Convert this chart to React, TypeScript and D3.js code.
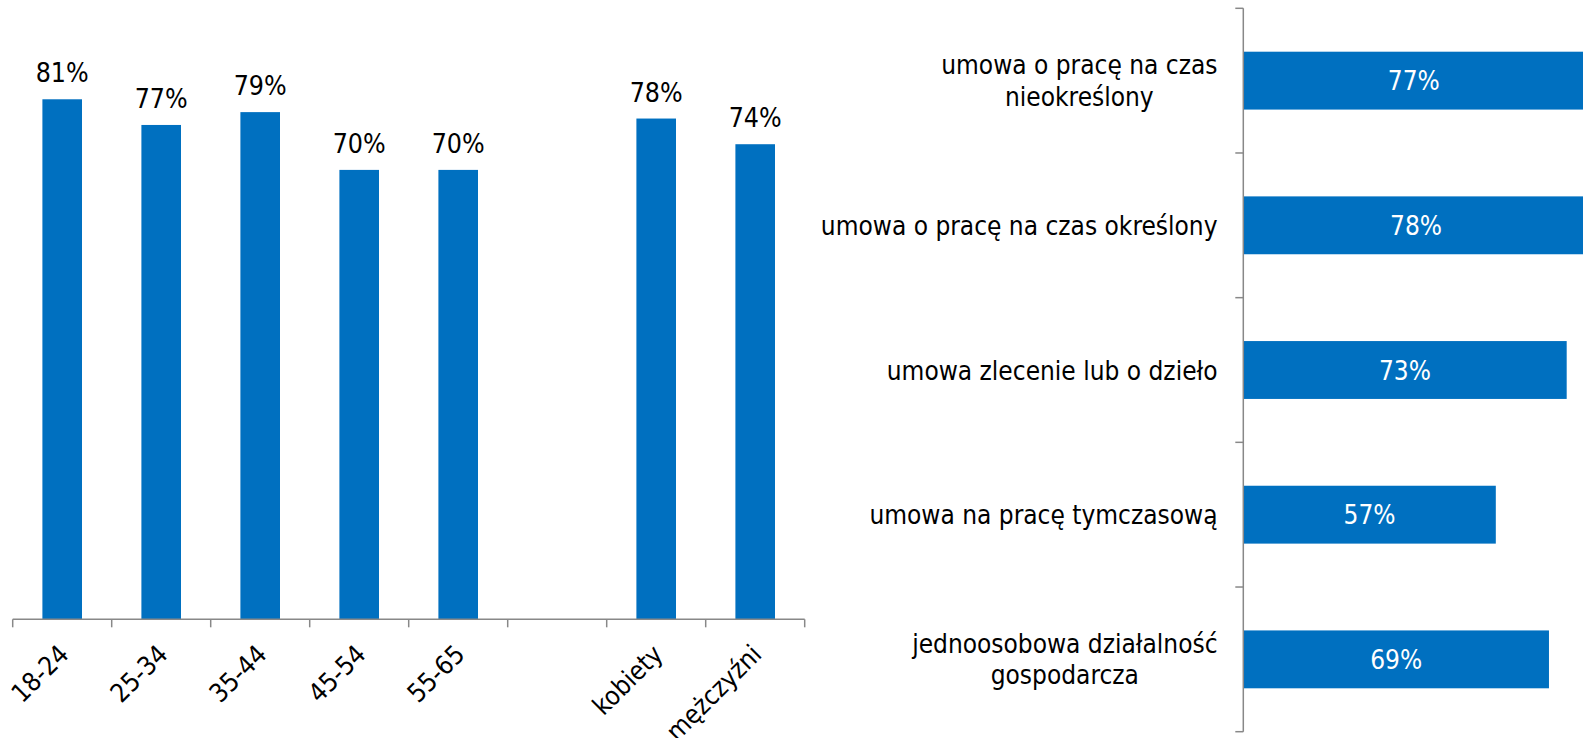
import React, { useEffect, useRef } from 'react';
import * as d3 from 'd3';

const W = 1583;
const H = 738;

const ageCategories = ['18-24', '25-34', '35-44', '45-54', '55-65', '', 'kobiety', 'mężczyźni'];
const ageValues: (number | null)[] = [81, 77, 79, 70, 70, null, 78, 74];

const contractCategories: string[][] = [
  ['umowa o pracę na czas', 'nieokreślony'],
  ['umowa o pracę na czas określony'],
  ['umowa zlecenie lub o dzieło'],
  ['umowa na pracę tymczasową'],
  ['jednoosobowa działalność', 'gospodarcza'],
];
const contractValues = [77, 78, 73, 57, 69];

const BLUE = '#0070C0';
const AXIS = '#888888';
const FONT = "'DejaVu Sans Condensed', 'Liberation Sans', sans-serif";
const FS = 26;

export default function App() {
  const ref = useRef<SVGSVGElement>(null);

  useEffect(() => {
    const svg = d3.select(ref.current);
    svg.selectAll('*').remove();

    // ---------- Left chart ----------
    const L = svg.append('g');
    const x = d3
      .scaleBand<string>()
      .domain(ageCategories.map((_, i) => String(i)))
      .range([12.7, 804.7])
      .paddingInner(0.6)
      .paddingOuter(0.3);
    const step = x.step();
    const x0 = 12.7;
    const y = d3.scaleLinear().domain([0, 90]).range([619.3, 619.3 - 90 * 6.42]);

    ageValues.forEach((v, i) => {
      if (v == null) return;
      const bx = x(String(i))!;
      L.append('rect')
        .attr('x', bx)
        .attr('y', y(v))
        .attr('width', x.bandwidth())
        .attr('height', y(0) - y(v))
        .attr('fill', BLUE);
      L.append('text')
        .attr('x', bx + x.bandwidth() / 2)
        .attr('y', y(v) - 17)
        .attr('text-anchor', 'middle')
        .attr('font-family', FONT)
        .attr('font-size', 26.5)
        .attr('fill', '#000')
        .text(`${v}%`);
    });

    // axis
    L.append('line')
      .attr('x1', x0)
      .attr('x2', x0 + step * ageCategories.length)
      .attr('y1', y(0))
      .attr('y2', y(0))
      .attr('stroke', AXIS)
      .attr('stroke-width', 1.5);
    for (let i = 0; i <= ageCategories.length; i++) {
      const tx = x0 + i * step;
      L.append('line')
        .attr('x1', tx)
        .attr('x2', tx)
        .attr('y1', y(0))
        .attr('y2', y(0) + 8)
        .attr('stroke', AXIS)
        .attr('stroke-width', 1.5);
    }
    ageCategories.forEach((c, i) => {
      if (!c) return;
      const cx = x(String(i))! + x.bandwidth() / 2;
      L.append('text')
        .attr('transform', `translate(${cx + 8},${656}) rotate(-45)`)
        .attr('text-anchor', 'end')
        .attr('font-family', FONT)
        .attr('font-size', FS)
        .attr('fill', '#000')
        .text(c);
    });

    // ---------- Right chart ----------
    const R = svg.append('g');
    const yb = d3
      .scaleBand<string>()
      .domain(contractCategories.map((_, i) => String(i)))
      .range([8.3, 731.7])
      .paddingInner(0.6)
      .paddingOuter(0.3);
    const xs = d3.scaleLinear().domain([0, 100]).range([1243.3, 1243.3 + 443]);
    const rstep = yb.step();

    contractValues.forEach((v, i) => {
      const by = yb(String(i))!;
      R.append('rect')
        .attr('x', xs(0))
        .attr('y', by)
        .attr('width', xs(v) - xs(0))
        .attr('height', yb.bandwidth())
        .attr('fill', BLUE);
      R.append('text')
        .attr('x', (xs(0) + xs(v)) / 2)
        .attr('y', by + yb.bandwidth() / 2 + 9.5)
        .attr('text-anchor', 'middle')
        .attr('font-family', FONT)
        .attr('font-size', FS)
        .attr('fill', '#fff')
        .text(`${v}%`);
    });

    // category labels
    const labelRight = 1217.5;
    contractCategories.forEach((lines, i) => {
      const c = yb(String(i))! + yb.bandwidth() / 2;
      const g = R.append('g');
      const texts = lines.map((ln) =>
        g
          .append('text')
          .attr('font-family', FONT)
          .attr('font-size', FS)
          .attr('fill', '#000')
          .attr('text-anchor', 'middle')
          .text(ln)
      );
      const widths = texts.map((t) => (t.node() as SVGTextElement).getComputedTextLength());
      const maxW = Math.max(...widths);
      const mid = labelRight - maxW / 2;
      texts.forEach((t, k) => {
        let by: number;
        if (lines.length === 1) by = c + 9.7;
        else by = c - 6.5 + k * 31.5;
        t.attr('x', mid).attr('y', by);
      });
    });

    // axis
    R.append('line')
      .attr('x1', xs(0))
      .attr('x2', xs(0))
      .attr('y1', 8.3)
      .attr('y2', 731.7)
      .attr('stroke', AXIS)
      .attr('stroke-width', 1.5);
    for (let i = 0; i <= contractCategories.length; i++) {
      const ty = 8.3 + i * rstep;
      R.append('line')
        .attr('x1', xs(0) - 8)
        .attr('x2', xs(0))
        .attr('y1', ty)
        .attr('y2', ty)
        .attr('stroke', AXIS)
        .attr('stroke-width', 1.5);
    }
  }, []);

  return (
    <svg
      ref={ref}
      width={W}
      height={H}
      style={{ position: 'absolute', left: 0, top: 0, background: '#fff' }}
    />
  );
}
